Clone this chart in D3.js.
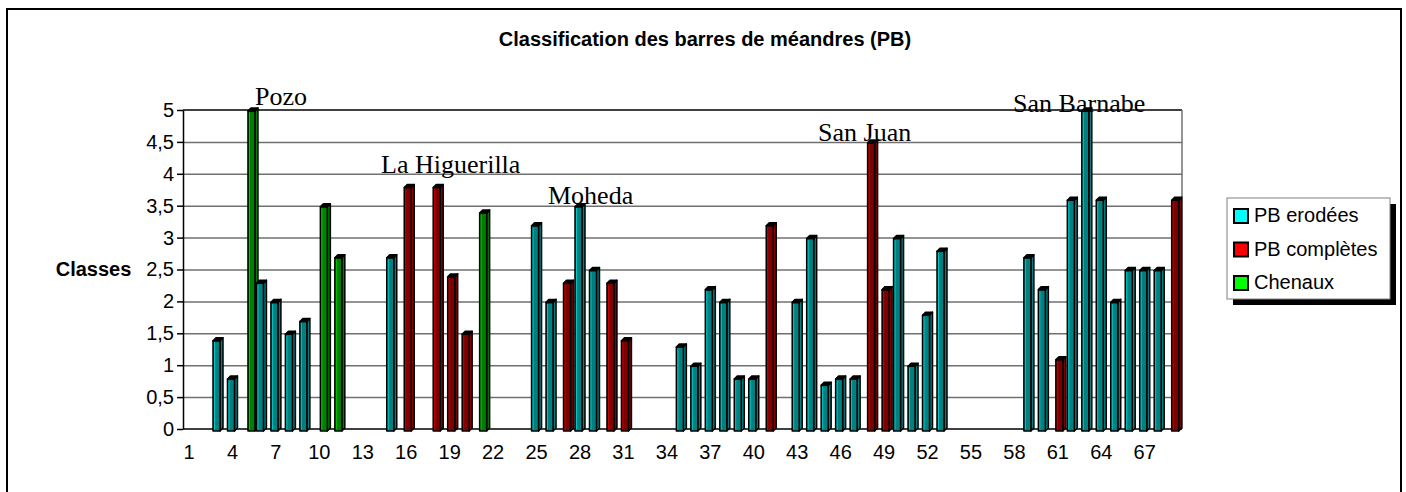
<!DOCTYPE html>
<html><head><meta charset="utf-8">
<script src="https://cdn.jsdelivr.net/npm/d3@7"></script>
<style>body{margin:0;background:#fff} svg{display:block}</style>
</head><body>
<script>
// ---- data ----
const categories = d3.range(1, 70);
const seriesNames = ["PB erodées", "PB complètes", "Chenaux"];
const erodeesCats   = [3,4,6,7,8,9,15,25,26,28,29,35,36,37,38,39,40,43,44,45,46,47,50,51,52,53,59,60,62,63,64,65,66,67,68];
const erodeesValues = [1.4,0.8,2.3,2.0,1.5,1.7,2.7,3.2,2.0,3.5,2.5,1.3,1.0,2.2,2.0,0.8,0.8,2.0,3.0,0.7,0.8,0.8,3.0,1.0,1.8,2.8,2.7,2.2,3.6,5.0,3.6,2.0,2.5,2.5,2.5];
const completesCats   = [16,18,19,20,27,30,31,41,48,49,61,69];
const completesValues = [3.8,3.8,2.4,1.5,2.3,2.3,1.4,3.2,4.5,2.2,1.1,3.6];
const chenauxCats   = [5,10,11,21];
const chenauxValues = [5.0,3.5,2.7,3.4];
const xTickLabels = [1,4,7,10,13,16,19,22,25,28,31,34,37,40,43,46,49,52,55,58,61,64,67];
const yTickValues = [0,0.5,1,1.5,2,2.5,3,3.5,4,4.5,5];
const annotationTexts  = ["Pozo","La Higuerilla","Moheda","San Juan","San Barnabe"];
const annotationCats   = [5.56, 14.26, 25.79, 44.44, 57.91];
const annotationValues = [5.08, 4.01, 3.53, 4.51, 4.97];
const titleText = "Classification des barres de méandres (PB)";
const yTitle = "Classes";

// ---- styles ----
const frontColors = {"PB erodées":"#008080","PB complètes":"#800000","Chenaux":"#008000"};
const lightColors = {"PB erodées":"#00FFFF","PB complètes":"#FF0000","Chenaux":"#00FF00"};
const sans = "'Liberation Sans', Arial, sans-serif";
const serif = "'Liberation Serif', 'Times New Roman', serif";

const W = 1406, H = 492;
const svg = d3.select("body").append("svg").attr("width", W).attr("height", H);
svg.append("rect").attr("width", W).attr("height", H).attr("fill", "#fff");
svg.append("rect").attr("x", 7).attr("y", 9).attr("width", 1394).attr("height", 520)
  .attr("fill", "none").attr("stroke", "#000").attr("stroke-width", 2);

const step = 14.48;
const x = d3.scaleBand().domain(categories).range([184.8, 184.8 + categories.length * step]).padding(0);
const sub = d3.scalePoint().domain(seriesNames).range([-3, 3]);
const xLin = d3.scaleLinear().domain([1, 69]).range([x(1) + step/2 - 3, x(69) + step/2 - 3]);
const y = d3.scaleLinear().domain([0, 5]).range([429, 110]);
const left = 183, right = 1182;

const fmt = d => String(d).replace(".", ",");

// gridlines
const grid = svg.append("g").attr("transform", `translate(${left},0)`)
  .call(d3.axisLeft(y).tickValues(yTickValues.filter(v => v > 0 && v < 5)).tickSize(-(right-left)).tickFormat(""));
grid.select(".domain").remove();
grid.selectAll("line").attr("stroke", "#707070").attr("stroke-width", 1.5);
// top wall line and right edge
svg.append("line").attr("x1", left).attr("x2", right).attr("y1", y(5)).attr("y2", y(5)).attr("stroke", "#000").attr("stroke-width", 1.5);
svg.append("line").attr("x1", right).attr("x2", right).attr("y1", y(5)).attr("y2", y(0)).attr("stroke", "#707070").attr("stroke-width", 1.5);

// y axis
const ya = svg.append("g").attr("transform", `translate(${left},0)`)
  .call(d3.axisLeft(y).tickValues(yTickValues).tickSize(6).tickSizeOuter(0).tickPadding(3).tickFormat(fmt));
ya.selectAll("text").attr("font-family", sans).attr("font-size", 20).attr("fill", "#000");
ya.selectAll("line,path").attr("stroke", "#000").attr("stroke-width", 1.5);

// x axis
const xa = svg.append("g").attr("transform", `translate(-3,${y(0)})`)
  .call(d3.axisBottom(x).tickValues(xTickLabels).tickSize(0).tickPadding(16));
xa.select(".domain").remove();
xa.selectAll("text").attr("font-family", sans).attr("font-size", 20).attr("fill", "#000");
svg.append("line").attr("x1", left).attr("x2", right).attr("y1", y(0)).attr("y2", y(0)).attr("stroke", "#000").attr("stroke-width", 1.5);

// bars
const bars = [];
[[erodeesCats, erodeesValues, seriesNames[0]], [completesCats, completesValues, seriesNames[1]], [chenauxCats, chenauxValues, seriesNames[2]]]
  .forEach(([cs, vs, s]) => cs.forEach((c, i) => bars.push({c, v: vs[i], s})));
bars.sort((a, b) => a.c - b.c || seriesNames.indexOf(a.s) - seriesNames.indexOf(b.s));

const bg = svg.append("g");
bars.forEach(b => {
  const cx = x(b.c) + x.bandwidth()/2 + sub(b.s);
  const yt = y(b.v) + 1, yb = y(0) + 2;
  const g = bg.append("g").attr("stroke", "#000").attr("stroke-width", 1.5).attr("stroke-linejoin", "round");
  g.append("polygon").attr("points", [[cx+2, yt], [cx+5, yt-3], [cx+5, yb-3], [cx+2, yb]].join(" "))
    .attr("fill", frontColors[b.s]);
  g.append("rect").attr("x", cx-5).attr("y", yt).attr("width", 7).attr("height", yb - yt)
    .attr("fill", frontColors[b.s]);
  g.append("polygon").attr("points", [[cx-5, yt], [cx+2, yt], [cx+5, yt-3], [cx-2, yt-3]].join(" "))
    .attr("fill", "#000");
  bg.append("line").attr("x1", cx-3.5).attr("x2", cx-3.5).attr("y1", yt+1.5).attr("y2", yb-1.5)
    .attr("stroke", lightColors[b.s]).attr("stroke-width", 1).attr("opacity", 0.55);
});

// annotations
annotationTexts.forEach((t, i) => {
  svg.append("text").attr("x", xLin(annotationCats[i])).attr("y", y(annotationValues[i]))
    .attr("font-family", serif).attr("font-size", 26).attr("fill", "#000").text(t);
});

// title
svg.append("text").attr("x", 705).attr("y", 46).attr("text-anchor", "middle")
  .attr("font-family", sans).attr("font-weight", "bold").attr("font-size", 20).text(titleText);
svg.append("text").attr("x", 93.5).attr("y", 276).attr("text-anchor", "middle")
  .attr("font-family", sans).attr("font-weight", "bold").attr("font-size", 20).text(yTitle);

// legend
const lg = svg.append("g").attr("transform", "translate(1227,198)");
lg.append("rect").attr("x", 6).attr("y", 6).attr("width", 163).attr("height", 101).attr("fill", "#000");
lg.append("rect").attr("x", 0).attr("y", 0).attr("width", 163).attr("height", 101).attr("fill", "#fff")
  .attr("stroke", "#808080").attr("stroke-width", 1);
seriesNames.forEach((s, i) => {
  const ry = 11 + i * 33.5;
  lg.append("rect").attr("x", 7).attr("y", ry).attr("width", 14).attr("height", 14)
    .attr("fill", lightColors[s]).attr("stroke", "#000").attr("stroke-width", 2);
  lg.append("text").attr("x", 27).attr("y", ry + 13).attr("font-family", sans).attr("font-size", 20).text(s);
});
</script>
</body></html>
